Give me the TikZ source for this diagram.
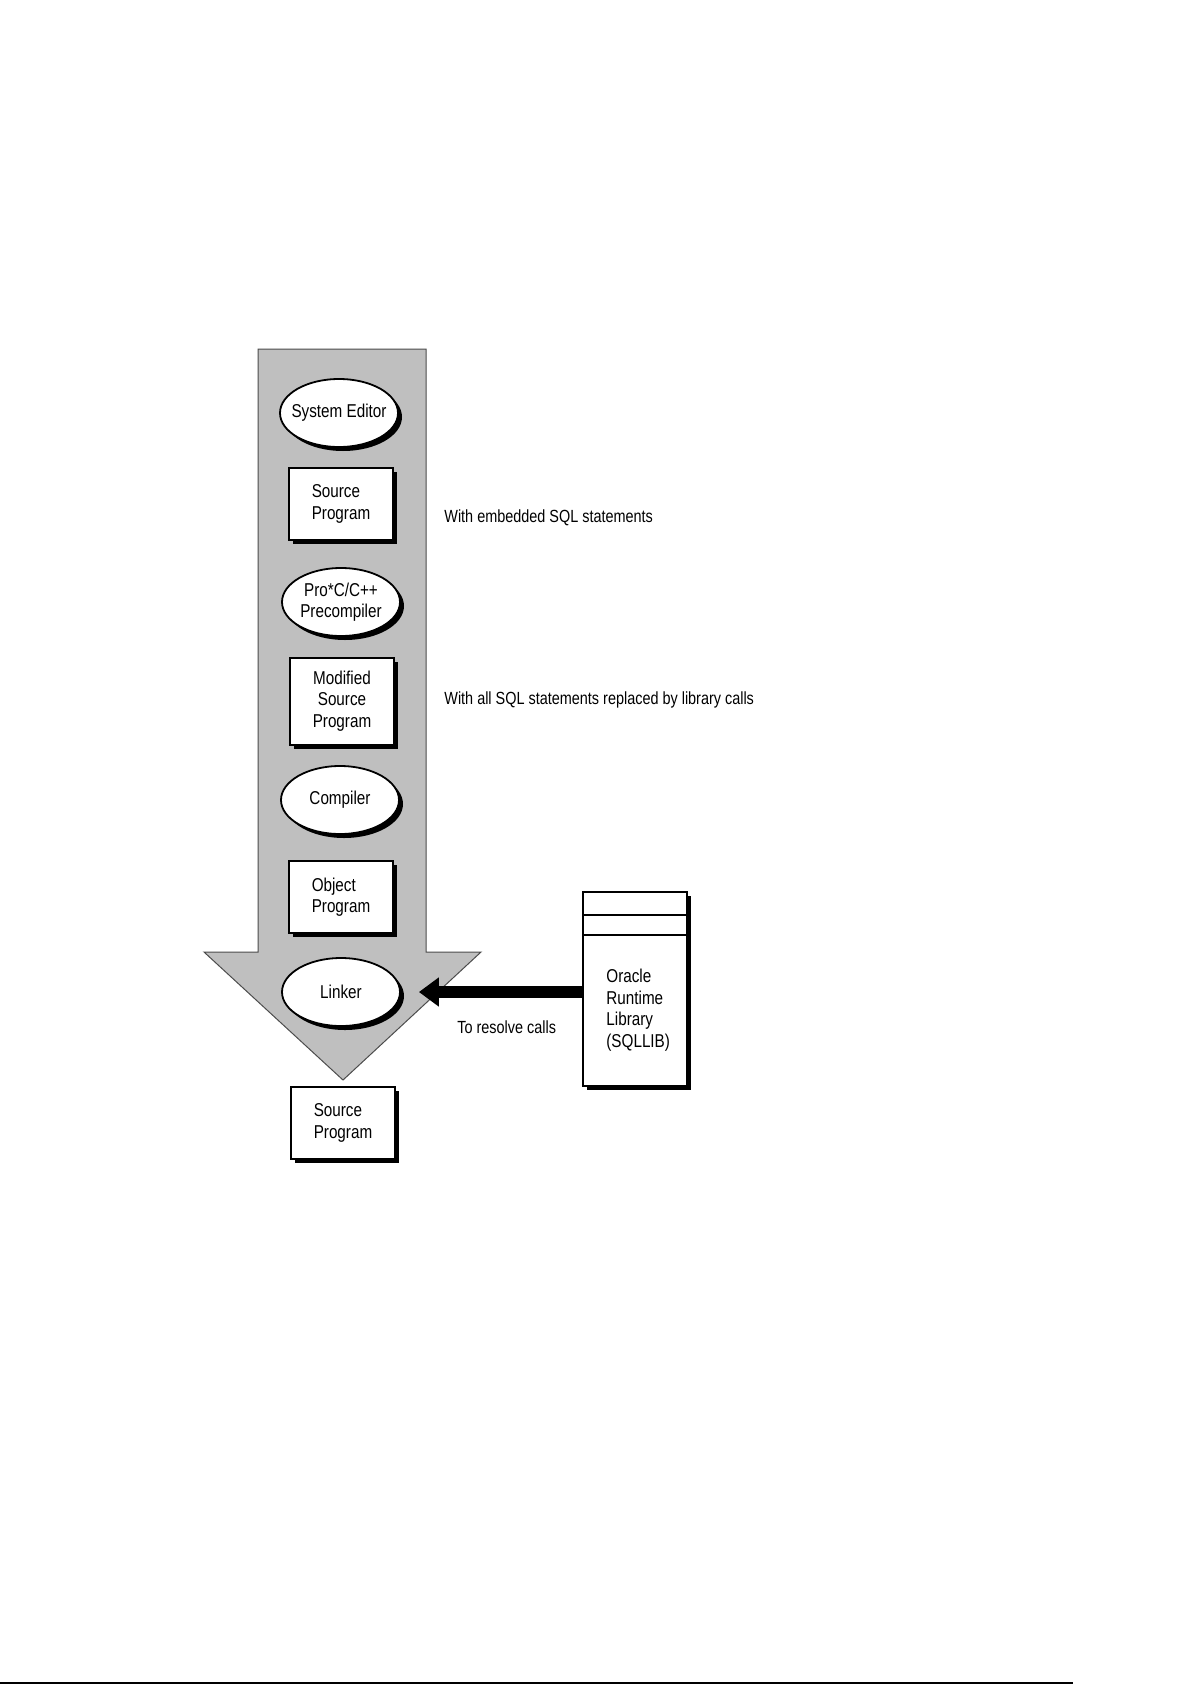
\documentclass[tikz,border=0pt]{standalone}
\usepackage{fontspec}
\setmainfont[FakeStretch=0.82]{Liberation Sans}
\usetikzlibrary{shapes.geometric,shadows,arrows.meta}
\tikzset{
	tool/.style={ellipse,draw,line width=.9pt,fill=white,minimum width=59pt,minimum height=34pt,inner sep=0pt,align=center,
		font=\fontsize{9.3}{10.8}\selectfont,drop shadow={shadow xshift=2pt,shadow yshift=-2pt,fill=black,opacity=1}},
	prog/.style={rectangle,draw,line width=1pt,fill=white,minimum width=52pt,minimum height=36pt,inner sep=0pt,align=left,
		font=\fontsize{9.3}{10.8}\selectfont,drop shadow={shadow xshift=2pt,shadow yshift=-2pt,fill=black,opacity=1}},
	remark/.style={anchor=west,inner sep=0pt,font=\fontsize{8.8}{10}\selectfont}
}
\begin{document}
\begin{tikzpicture}[x=.5pt,y=-.5pt]
	\useasboundingbox (0,0) rectangle (1192,1685);
	\fill[white] (0,0) rectangle (1192,1685);
	\path
	(258,349) coordinate (A) (426,349) coordinate (B) (426,952) coordinate (C) (481,952) coordinate (D)
	(343,1080) coordinate (T) (204,952) coordinate (E) (258,952) coordinate (F)
	;
	\draw[black!70,line width=.5pt,fill=black!25] (A)--(B)--(C)--(D)--(T)--(E)--(F)--cycle;
	\node[tool,inner xsep=-3pt] (editor) at (339,413) {System Editor};
	\node[prog] (source) at (341,504) {Source\\Program};
	\node[tool] (precomp) at (341,602) {Pro*C/C++\\Precompiler};
	\node[prog,align=center,minimum height=43.5pt] (modified) at (342,701) {Modified\\Source\\Program};
	\node[tool] (compiler) at (340,800) {Compiler};
	\node[prog] (object) at (341,897) {Object\\Program};
	\node[tool] (linker) at (341,992) {Linker};
	\node[prog] (result) at (343,1123) {Source\\Program};
	\node[prog,minimum width=52pt,minimum height=97pt] (lib) at (635,989) {};
	\draw[line width=1pt] (lib.north west) ++(0,24) -- ++(104,0) (lib.north west) ++(0,44) -- ++(104,0);
	\node[anchor=west,inner sep=0pt,align=left,font=\fontsize{9.3}{10.8}\selectfont] (libtext) at (606,1010) {Oracle\\Runtime\\Library\\(SQLLIB)};
	\draw[line width=6pt,-{Triangle[length=10pt,width=14pt]},shorten >=9pt] (lib.west |- linker.east) -- (linker.east);
	\node[remark] (embedded) at (444,518) {With embedded SQL statements};
	\node[remark] (replaced) at (444,700) {With all SQL statements replaced by library calls};
	\node[remark] (resolve) at (457,1027) {To resolve calls};
	\draw[line width=1pt] (0,1683) -- (1073,1683);
\end{tikzpicture}
\end{document}
